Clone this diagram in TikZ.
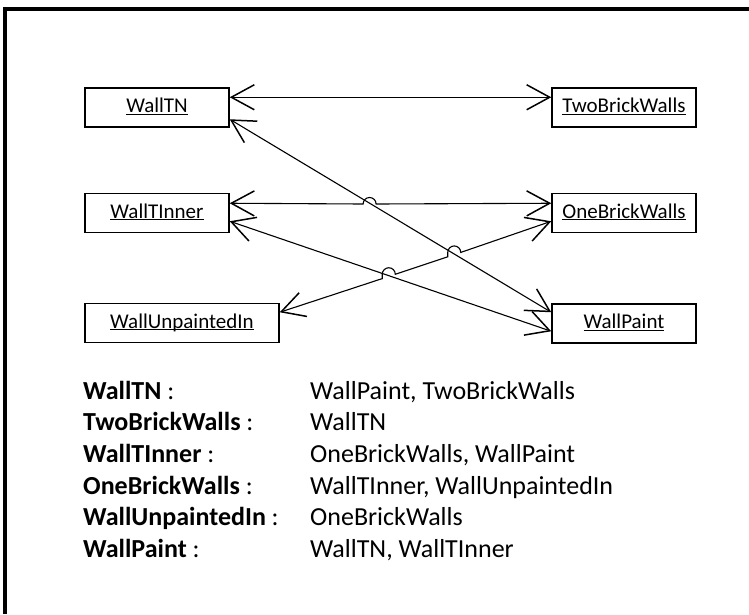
\documentclass[tikz,border=0pt]{standalone}
\usepackage{fontspec}
\setmainfont{Carlito}
\usetikzlibrary{arrows.meta,calc}
% underlined box title with a fixed rule position
\newcommand\boxtitle[1]{\setbox0\hbox{#1}\rlap{\rule[-2.4pt]{\wd0}{1.1pt}}\box0}
\begin{document}
\begin{tikzpicture}[x=1pt,y=-1pt,
  entity/.style={draw, line width=1.5pt, minimum width=144pt, minimum height=39pt,
    inner sep=0pt, text height=14pt, text depth=4pt,
    font=\fontsize{21}{25}\selectfont},
  barb/.tip={Straight Barb[length=23pt,width=25pt,line width=1.5pt]},
  link/.style={line width=1.1pt, barb-barb},
  lbl/.style={anchor=base west, inner sep=0pt, font=\fontsize{26}{31}\selectfont},
  frame/.style={line width=4pt}]
\useasboundingbox (0,0) rectangle (749,614);

% outer frame (top and left edges)
\draw[frame] (5,614) -- (5,9) -- (749,9);

% entities
\node[entity] (tn) at (157,107.5) {\boxtitle{WallTN}};
\node[entity] (tb) at (624,107.5) {\boxtitle{TwoBrickWalls}};
\node[entity] (ti) at (157,213) {\boxtitle{WallTInner}};
\node[entity] (ob) at (624,213) {\boxtitle{OneBrickWalls}};
\node[entity, minimum width=194pt] (wu) at (182,323) {\boxtitle{WallUnpaintedIn}};
\node[entity] (wp) at (624,323.5) {\boxtitle{WallPaint}};

% associations
\draw[link] ($(tn.north east)+(0,10)$) -- ($(tb.north west)+(0,10)$);
\draw[link] ($(tn.north east)+(0,32)$) -- ($(wp.north west)+(0,9)$);
\draw[link] ($(ti.north east)+(0,10.5)$) -- (363.1,204)
  arc[start angle=180, end angle=0, radius=6.5pt] -- ($(ob.north west)+(0,10.5)$);
\draw[link] ($(ti.north east)+(0,28.5)$) -- ($(wp.north west)+(0,28)$);
\draw[link] ($(wu.north east)+(0,9.5)$) -- (382.27,278.58) -- (382.27,274.24)
  arc[start angle=180, end angle=0, radius=6.5pt] -- (447.74,256.76) -- (447.74,252.42)
  arc[start angle=180, end angle=0, radius=6.5pt] -- ($(ob.north west)+(0,28.5)$);

% reference list
\node[lbl] (l1) at (83,399) {\textbf{WallTN} :};
\node[lbl] (l2) at (83,430.7) {\textbf{TwoBrickWalls} :};
\node[lbl] (l3) at (83,462.4) {\textbf{WallTInner} :};
\node[lbl] (l4) at (83,494.1) {\textbf{OneBrickWalls} :};
\node[lbl] (l5) at (83,525.8) {\textbf{WallUnpaintedIn} :};
\node[lbl] (l6) at (83,557.5) {\textbf{WallPaint} :};
\node[lbl] (v1) at (310,399) {WallPaint, TwoBrickWalls};
\node[lbl] (v2) at (310,430.7) {WallTN};
\node[lbl] (v3) at (310,462.4) {OneBrickWalls, WallPaint};
\node[lbl] (v4) at (310,494.1) {WallTInner, WallUnpaintedIn};
\node[lbl] (v5) at (310,525.8) {OneBrickWalls};
\node[lbl] (v6) at (310,557.5) {WallTN, WallTInner};
\end{tikzpicture}
\end{document}
